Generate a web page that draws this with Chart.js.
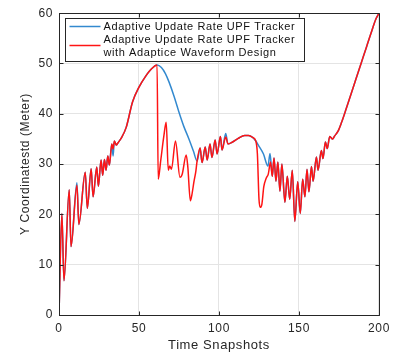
<!DOCTYPE html>
<html>
<head>
<meta charset="utf-8">
<script src="https://cdn.jsdelivr.net/npm/chart.js@4"></script>
<style>
  html, body { margin: 0; padding: 0; background: #fff; }
  #wrap { width: 395px; height: 356px; }
</style>
</head>
<body>
<div id="wrap"><canvas id="trackChart" width="395" height="356"></canvas></div>
<script>
// Axis ticks
const xTicks = [0, 50, 100, 150, 200];
const yTicks = [0, 10, 20, 30, 40, 50, 60];

// Adaptive update rate UPF tracker (time snapshot, y coordinate)
const blueT = [0, 1.8, 3.1, 6.4, 7.5, 11.2, 12.4, 16.4, 17.7, 20.1,
  21.3, 23.6, 24.6, 26.3, 27.3, 28.4, 29.4, 30.5, 31.5, 33.0,
  33.8, 34.6, 35.8, 36.8, 39, 42, 46, 50, 54, 58,
  61.3, 64, 66.5, 68.8, 72, 75, 78, 81.2, 84, 86.3,
  88.2, 89.4, 91.4, 92.6, 94.4, 95.6, 97.6, 98.8, 100.9, 101.9,
  104.2, 105.6, 108.5, 112, 116, 118.4, 121, 123, 124.5, 127.8,
  130.6, 131.9, 133.3, 134.4, 135.6, 136.8, 138.1, 139.3, 141.2, 142.7,
  144.2, 145.8, 147.4, 149.2, 150.8, 152.3, 153.7, 155.0, 156.2, 157.8,
  158.8, 160.9, 161.9, 164.0, 165.0, 166.5, 167.7, 169.2, 171.0, 172.3,
  174.5, 176.5, 179.5, 182.6, 185.7, 188.8, 192, 195, 198, 200];
const blueY = [0, 20.2, 6.8, 24.9, 13.6, 26.3, 18.0, 28.4, 21.2, 29.1,
  23.5, 29.4, 25.6, 30.8, 27.8, 30.9, 28.8, 31.6, 29.8, 34.0,
  31.6, 34.6, 33.8, 34.2, 35.2, 37.3, 42.4, 45.3, 47.4, 49.0,
  49.7, 49.2, 48.0, 46.3, 43.4, 40.3, 37.5, 35.0, 32.6, 30.6,
  33.2, 30.3, 33.4, 30.8, 34.0, 31.3, 34.8, 32.0, 35.5, 32.8,
  36.1, 34.0, 34.4, 35.1, 35.7, 35.7, 35.3, 34.6, 33.8, 32.0,
  29.6, 32.1, 27.6, 31.2, 26.6, 30.4, 24.6, 30.0, 22.4, 27.6,
  23.0, 28.8, 18.6, 26.5, 20.2, 27.0, 23.5, 29.0, 24.5, 29.5,
  26.6, 31.4, 28.8, 32.7, 31.1, 34.4, 33.1, 35.5, 35.0, 35.6,
  36.6, 38.2, 41.0, 44.0, 47.0, 50.0, 53.1, 56.0, 58.8, 60.0];

// Same tracker with adaptive waveform design
const redT = [0, 1.8, 3.1, 6.4, 7.5, 11.2, 12.4, 16.4, 17.7, 20.1,
  21.3, 23.6, 24.6, 26.3, 27.3, 28.4, 29.4, 30.5, 31.5, 33.0,
  33.8, 34.6, 35.8, 36.8, 39, 42, 46, 50, 54, 58,
  61.3, 62.0, 63.5, 65.5, 67.0, 68.3, 69.2, 70.3, 72.8, 75.6,
  77.0, 79.5, 80.5, 82.1, 83.0, 84.4, 85.5, 86.3, 88.2, 89.4,
  91.4, 92.6, 94.4, 95.6, 97.6, 98.8, 100.9, 101.9, 104.2, 105.6,
  108.5, 112, 116, 118.4, 121, 123, 124.0, 125.0, 125.8, 126.8,
  128.0, 129.5, 130.8, 132.2, 133.3, 134.4, 135.6, 136.8, 138.1, 139.3,
  141.2, 142.7, 144.2, 145.8, 147.4, 149.2, 150.8, 152.3, 153.7, 155.0,
  156.2, 157.8, 158.8, 160.9, 161.9, 164.0, 165.0, 166.5, 167.7, 169.2,
  171.0, 172.3, 174.5, 176.5, 179.5, 182.6, 185.7, 188.8, 192, 195,
  198, 200];
const redY = [0, 20.2, 6.8, 24.9, 13.6, 25.8, 18.0, 28.4, 21.2, 29.1,
  23.5, 29.4, 25.6, 30.8, 27.8, 30.9, 28.8, 31.6, 29.8, 34.0,
  33.0, 34.6, 33.8, 34.2, 35.2, 37.3, 42.4, 45.3, 47.4, 49.0,
  49.7, 27.0, 30.5, 35.5, 38.3, 28.8, 29.6, 29.0, 34.6, 27.4,
  28.0, 31.8, 29.5, 22.7, 23.8, 26.6, 28.5, 30.6, 33.2, 30.3,
  33.4, 30.8, 34.0, 31.3, 34.8, 32.0, 35.5, 32.8, 35.4, 34.0,
  34.4, 35.1, 35.7, 35.7, 35.3, 34.6, 32.0, 23.0, 21.4, 22.0,
  25.5, 27.2, 28.0, 30.4, 27.6, 31.2, 26.6, 30.4, 24.6, 30.0,
  22.4, 27.6, 23.0, 28.8, 18.6, 26.5, 20.2, 27.0, 23.5, 29.0,
  24.5, 29.5, 26.6, 31.4, 28.8, 32.7, 31.1, 34.4, 33.1, 35.5,
  35.0, 35.6, 36.6, 38.2, 41.0, 44.0, 47.0, 50.0, 53.1, 56.0,
  58.8, 60.0];

const blueColor = '#3389cf';
const redColor = '#ff1414';
const axisColor = '#262626';

const toPoints = (ts, ys) => ts.map((t, i) => ({ x: t, y: ys[i] }));

Chart.defaults.font.family = '"Liberation Sans", Arial, sans-serif';
Chart.defaults.color = axisColor;

// box around the axes with inward tick marks on all four sides
const framePlugin = {
  id: 'frame',
  beforeDraw(chart) {
    chart.ctx.letterSpacing = '0.6px';
  },
  afterDatasetsDraw(chart) {
    const { ctx, chartArea: a, scales: { x, y } } = chart;
    const L = Math.round(a.left) + 0.5, R = Math.round(a.right) + 0.5;
    const T = Math.round(a.top) + 0.5, B = Math.round(a.bottom) + 0.5;
    ctx.save();
    ctx.strokeStyle = axisColor;
    ctx.lineWidth = 1;
    ctx.beginPath();
    ctx.rect(L, T, R - L, B - T);
    xTicks.forEach(v => {
      const px = Math.round(x.getPixelForValue(v)) + 0.5;
      ctx.moveTo(px, B); ctx.lineTo(px, B - 4);
      ctx.moveTo(px, T); ctx.lineTo(px, T + 4);
    });
    yTicks.forEach(v => {
      const py = Math.round(y.getPixelForValue(v)) + 0.5;
      ctx.moveTo(L, py); ctx.lineTo(L + 4, py);
      ctx.moveTo(R, py); ctx.lineTo(R - 4, py);
    });
    ctx.stroke();
    ctx.restore();
  },
  afterDraw(chart) {
    // legend box, the second entry spans two text lines
    const { ctx, chartArea: a } = chart;
    const bx = Math.round(a.left) + 6.5, by = Math.round(a.top) + 5.5;
    ctx.save();
    ctx.fillStyle = '#fff';
    ctx.strokeStyle = axisColor;
    ctx.lineWidth = 1;
    ctx.fillRect(bx, by, 239, 43);
    ctx.strokeRect(bx, by, 239, 43);
    ctx.lineWidth = 1.5;
    ctx.strokeStyle = blueColor;
    ctx.beginPath(); ctx.moveTo(bx + 4, by + 8); ctx.lineTo(bx + 35, by + 8); ctx.stroke();
    ctx.strokeStyle = redColor;
    ctx.beginPath(); ctx.moveTo(bx + 4, by + 27); ctx.lineTo(bx + 35, by + 27); ctx.stroke();
    ctx.fillStyle = '#111';
    ctx.font = '11px "Liberation Sans", Arial, sans-serif';
    ctx.textBaseline = 'middle';
    ctx.fillText('Adaptive Update Rate UPF Tracker', bx + 38, by + 8);
    ctx.fillText('Adaptive Update Rate UPF Tracker', bx + 38, by + 21);
    ctx.fillText('with Adaptice Waveform Design', bx + 38, by + 34);
    ctx.restore();
  }
};

new Chart(document.getElementById('trackChart'), {
  type: 'line',
  data: {
    datasets: [
      {
        label: 'Adaptive Update Rate UPF Tracker',
        data: toPoints(blueT, blueY),
        borderColor: blueColor,
        borderWidth: 1.5,
        pointRadius: 0,
        cubicInterpolationMode: 'monotone',
        order: 1
      },
      {
        label: 'Adaptive Update Rate UPF Tracker with Adaptice Waveform Design',
        data: toPoints(redT, redY),
        borderColor: redColor,
        borderWidth: 1.5,
        pointRadius: 0,
        cubicInterpolationMode: 'monotone',
        order: 0
      }
    ]
  },
  options: {
    responsive: false,
    animation: false,
    layout: { padding: { top: 12, right: 14, left: 0, bottom: 0 } },
    plugins: {
      legend: { display: false },
      tooltip: { enabled: false }
    },
    scales: {
      x: {
        type: 'linear',
        min: 0,
        max: 200,
        afterBuildTicks: s => { s.ticks = xTicks.map(v => ({ value: v })); },
        afterFit: s => { s.height = 41; },
        grid: { color: '#e4e4e4', drawTicks: false },
        border: { color: axisColor },
        ticks: { font: { size: 12 }, padding: 6, maxRotation: 0, autoSkip: false },
        title: { display: true, text: 'Time Snapshots', font: { size: 13 }, padding: { top: 0, bottom: 3 } }
      },
      y: {
        type: 'linear',
        min: 0,
        max: 60,
        afterBuildTicks: s => { s.ticks = yTicks.map(v => ({ value: v })); },
        afterFit: s => { s.width = 59; },
        grid: { color: '#e4e4e4', drawTicks: false },
        border: { color: axisColor },
        ticks: { font: { size: 12 }, padding: 6 },
        title: { display: true, text: 'Y Coordinatestd (Meter)', font: { size: 12 }, padding: { top: 18, bottom: 0 } }
      }
    }
  },
  plugins: [framePlugin]
});
</script>
</body>
</html>
